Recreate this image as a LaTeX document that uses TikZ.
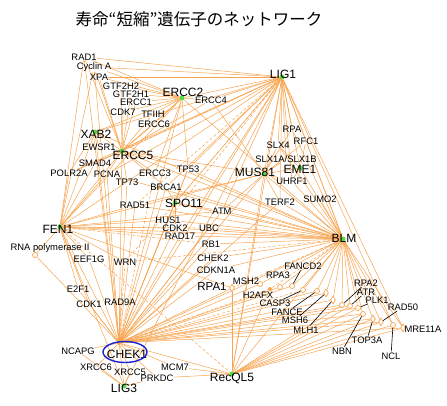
\documentclass[tikz,border=0pt]{standalone}
\usepackage{fontspec}
\setmainfont{Liberation Sans}
\newfontfamily\jpfont{Noto Sans CJK JP}
\usetikzlibrary{shapes.geometric,backgrounds}
\definecolor{edgeor}{RGB}{247,164,78}
\definecolor{hubgreen}{RGB}{92,214,70}
\definecolor{chekblue}{RGB}{26,34,214}

\begin{document}
\begin{tikzpicture}[
  x=1pt, y=-1pt,
  title/.style={inner sep=0pt, font=\jpfont\fontsize{16.5}{18}\selectfont},
  lbl/.style={inner sep=0pt, font=\fontsize{9.4}{10}\selectfont},
  hublbl/.style={inner sep=0pt, font=\fontsize{12}{13}\selectfont},
  hub/.style={circle, fill=hubgreen, inner sep=0pt, minimum size=5pt},
  chekdot/.style={circle, fill=edgeor, inner sep=0pt, minimum size=4pt},
  ring/.style={circle, draw=edgeor, fill=white, line width=0.7pt, inner sep=0pt, minimum size=5pt},
  rhomb/.style={diamond, draw=edgeor, fill=white, line width=0.7pt, inner sep=0pt, minimum width=5pt, minimum height=8pt},
  link/.style={draw=edgeor, line width=0.5pt},
  dlink/.style={link, dashed, dash pattern=on 3pt off 2pt},
  leader/.style={draw=black, line width=0.6pt, shorten <=1pt},
  hilite/.style={ellipse, draw=chekblue, line width=1.4pt, minimum width=44pt, minimum height=21pt, inner sep=0pt}
]
\useasboundingbox (0,0) rectangle (447,406);
\node[title] (title) at (199,19) {寿命“短縮”遺伝子のネットワーク};

% hubs
\foreach \n/\x/\y in {lig1/282/77, ercc2/182/98, xab2/95/132, ercc5/122/151, fen1/60/227,
  mus81/264/174, eme1/300/168, spo11/175/203, blm/343/239, lig3/124/386, recql5/232/374}
  \node[hub] (\n) at (\x,\y) {};
\node[chekdot] (chek1) at (119,343) {};
\foreach \n/\x/\y/\t in {lig1/283/74/LIG1, ercc2/183/92/ERCC2, xab2/96/134/XAB2, ercc5/133/155/ERCC5,
  fen1/58/229/FEN1, mus81/255/172/MUS81, eme1/300/169/EME1, spo11/184/203/SPO11, blm/344/238/BLM,
  chek1/127/354/CHEK1, lig3/124/388/LIG3, recql5/232/378/RecQL5}
  \node[hublbl] (\n-t) at (\x,\y) {\t};
\node[hilite] (chek1-ring) at (125,352) {};

% genes
\foreach \n/\x/\y/\t in {rad1/84/57/RAD1, cyca/94/67/Cyclin A, xpa/99/77/XPA, gtf2h2/121/86/GTF2H2,
  gtf2h1/131/94/GTF2H1, ercc4/211/100/ERCC4, ercc1/136/102/ERCC1, cdk7/123/112/CDK7, tfiih/153/114/TFIIH,
  ercc6/154/124/ERCC6, ewsr1/99/147/EWSR1, smad4/95/163/SMAD4, polr2a/69/173/POLR2A, pcna/107/174/PCNA,
  tp73/127/182/TP73, ercc3/155/173/ERCC3, tp53/188/169/TP53, brca1/166/187/BRCA1, rad51/135/205/RAD51,
  rpa/292/129/RPA, rfc1/306/141/RFC1, slx4/278/145/SLX4, slx1/286/159/{SLX1A/SLX1B}, uhrf1/292/181/UHRF1,
  terf2/280/202/TERF2, sumo2/320/199/SUMO2, atm/222/211/ATM, hus1/168/220/HUS1, cdk2/175/228/CDK2,
  rad17/180/236/RAD17, ubc/209/228/UBC, rb1/211/244/RB1, chek2/213/258/CHEK2, cdkn1a/216/270/CDKN1A,
  eef1g/89/259/EEF1G, wrn/125/262/WRN, e2f1/78/289/E2F1, cdk1/89/304/CDK1, rad9a/120/302/RAD9A,
  ncapg/78/351/NCAPG, xrcc6/96/367/XRCC6, xrcc5/130/372/XRCC5, prkdc/157/378/PRKDC, mcm7/175/367/MCM7}
  \node[lbl] (\n) at (\x,\y) {\t};

% small markers and their labels
\node[ring] (rnapol) at (35,255) {};
\node[lbl] (rnapol-t) at (50,248) {RNA polymerase II};
\node[rhomb] (rpa1) at (232,288) {};
\node[hublbl, font=\fontsize{11.5}{12}\selectfont] (rpa1-t) at (212,287) {RPA1};
\foreach \n/\x/\y/\s in {msh2/260/284/ring, h2afx/270/289/chekdot, rpa3/280/287/ring, fancd2/292/286/ring,
  casp3/303/290/ring, fance/317/291/ring, msh6/326/293/rhomb, mlh1/333/300/rhomb, rpa2/342/305/ring,
  atr/350/306/ring, plk1/358/308/ring, nbn/363/314/ring, top3a/373/319/rhomb, rad50/381/322/rhomb,
  ncl/393/325/ring, mre11a/403/328/rhomb}
  \node[\s] (\n) at (\x,\y) {};
\foreach \n/\x/\y/\t in {msh2/246/281/MSH2, h2afx/258/295/H2AFX, rpa3/278/275/RPA3, fancd2/303/266/FANCD2,
  casp3/275/303/CASP3, fance/287/312/FANCE, msh6/295/320/MSH6, mlh1/306/330/MLH1, rpa2/366/283/RPA2,
  atr/366/292/ATR, plk1/377/300/PLK1, nbn/342/351/NBN, top3a/367/340/TOP3A, rad50/403/307/RAD50,
  ncl/391/356/NCL, mre11a/423/329/MRE11A}
  \node[lbl] (\n-t) at (\x,\y) {\t};
\foreach \n in {fancd2, casp3, fance, msh6, mlh1, rpa2, atr, plk1, nbn, top3a, rad50, ncl}
  \draw[leader] (\n-t) -- (\n);

\begin{scope}[on background layer]
\foreach \b in {rad1, cyca, xpa, ercc2, ercc4, xab2, ercc5, fen1, pcna, spo11, mus81, eme1, rpa, rfc1,
  slx4, slx1, uhrf1, terf2, blm, chek1, recql5, mre11a, ncl, atm, brca1, tp53, polr2a, lig3, rad17}
  \draw[link] (lig1) -- (\b);
\foreach \b in {rad51, wrn, hus1, smad4}
  \draw[dlink] (lig1) -- (\b);
\foreach \b in {rad1, cyca, xpa, gtf2h2, gtf2h1, ercc1, cdk7, tfiih, ercc6, ercc4, ercc5, xab2, ercc3,
  tp53, fen1, blm, chek1}
  \draw[link] (ercc2) -- (\b);
\foreach \b in {xab2, ewsr1, ercc6, ercc1, cdk7, gtf2h1, gtf2h2, xpa, rad1, cyca, smad4, polr2a, pcna,
  tp73, ercc3, tp53, fen1, blm, chek1, brca1, mus81, ercc4, tfiih}
  \draw[link] (ercc5) -- (\b);
\foreach \b in {fen1, ewsr1, polr2a, chek1, blm}
  \draw[link] (xab2) -- (\b);
\foreach \b in {rnapol, polr2a, pcna, eef1g, wrn, rad51, e2f1, cdk1, chek1, blm, mus81, hus1, cdk2,
  rad17, atm, rpa1, smad4, rad1, cyca, lig3}
  \draw[link] (fen1) -- (\b);
\foreach \b in {ubc, rb1, recql5}
  \draw[dlink] (fen1) -- (\b);
\foreach \b in {slx1, slx4, eme1, uhrf1, terf2, blm, chek1, recql5, atm, rpa, rfc1, rad51, ercc4}
  \draw[link] (mus81) -- (\b);
\foreach \b in {blm, slx4, rfc1, uhrf1}
  \draw[link] (eme1) -- (\b);
\foreach \b in {brca1, atm, cdk2, hus1, blm, chek1, tp53}
  \draw[link] (spo11) -- (\b);
\foreach \b in {sumo2, terf2, rpa, rfc1, slx4, atm, ubc, rb1, chek2, cdkn1a, hus1, cdk2, rad17, rad51,
  brca1, tp53, pcna, chek1, recql5, msh2, rpa3, fancd2, casp3, fance, msh6, mlh1, rpa2, atr,
  plk1, nbn, top3a, rad50, ncl, mre11a, uhrf1}
  \draw[link] (blm) -- (\b);
\foreach \b in {wrn, rpa1, h2afx}
  \draw[dlink] (blm) -- (\b);
\foreach \b in {rad9a, cdk1, e2f1, ncapg, xrcc6, xrcc5, prkdc, lig3, mcm7, recql5, rpa1, msh2, rpa3,
  fancd2, fance, msh6, mlh1, rpa2, atr, plk1, nbn, top3a, rad50, mre11a, chek2, cdkn1a, rb1,
  hus1, rad17, cdk2, ubc, atm, tp53, brca1, rad51, eef1g, terf2, tp73, pcna, rnapol, rad1, cyca}
  \draw[link] (chek1) -- (\b);
\foreach \b in {h2afx, casp3, wrn, ercc3}
  \draw[dlink] (chek1) -- (\b);
\foreach \b in {mcm7, prkdc, rpa1, rpa2, atr, top3a, nbn, mre11a, rad50, ncl, plk1, h2afx}
  \draw[link] (recql5) -- (\b);
\foreach \b in {xrcc6, xrcc5, ncapg, prkdc}
  \draw[link] (lig3) -- (\b);
\end{scope}
\end{tikzpicture}
\end{document}
